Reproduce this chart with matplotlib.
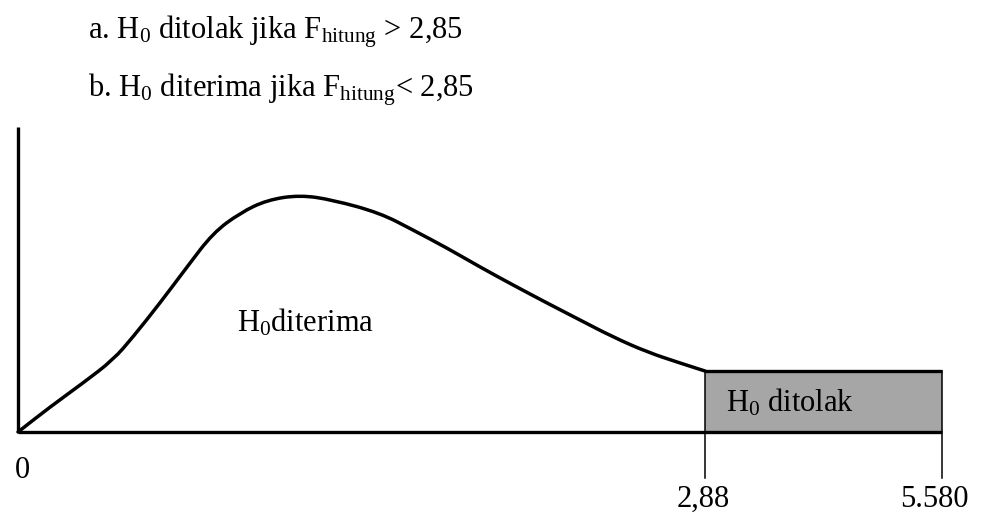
import matplotlib
matplotlib.use("Agg")
import matplotlib.pyplot as plt
from matplotlib.patches import Rectangle, PathPatch
from matplotlib.path import Path

plt.rcParams['font.family'] = ['Liberation Serif', 'DejaVu Serif']
plt.rcParams['mathtext.fontset'] = 'custom'
plt.rcParams['mathtext.rm'] = 'Liberation Serif'
plt.rcParams['mathtext.it'] = 'Liberation Serif:italic'

# kurva (satuan skematik: jarak mendatar, tinggi di atas sumbu)
curve_x = [0, 32, 65, 95, 115, 142, 169, 195, 222, 249, 282, 315,
           362, 395, 429, 462, 495, 529, 562, 595, 629, 662, 687]
curve_y = [0, 25, 49, 72, 95, 129, 165, 199, 219, 232, 237, 232,
           219, 202, 184, 165, 147, 129, 112, 95, 80, 69, 61]

# daerah penolakan
reject_start = 687
reject_end = 924
reject_height = 61
axis_height = 305

tick_pos = [0, reject_start, reject_end]
tick_labels = ['0', '2,88', '5.580']

rules = [r'a. $\mathrm{H_0}$ ditolak jika $\mathrm{F_{hitung}}$ > 2,85',
         r'b. $\mathrm{H_0}$ diterima jika $\mathrm{F_{hitung}}$< 2,85']

fig = plt.figure(figsize=(9.82, 5.23), dpi=100)
ax = fig.add_axes([0, 0, 1, 1])
ax.set_xlim(-18, 964)
ax.set_ylim(-91, 432)
ax.axis('off')

fs = 22

# kotak H0 ditolak
ax.add_patch(Rectangle((reject_start, 0), reject_end - reject_start, reject_height,
                       facecolor='#a6a6a6', edgecolor='none'))
ax.plot([reject_start, reject_end], [reject_height, reject_height], color='black', lw=2.4,
        solid_capstyle='butt')
for xp in tick_pos[1:]:
    ax.plot([xp, xp], [-46, reject_height], color='black', lw=1.1)

# sumbu
ax.plot([0, reject_end], [0, 0], color='black', lw=2.4, solid_capstyle='butt')
ax.plot([0, 0], [0, axis_height], color='black', lw=2.4, solid_capstyle='butt')

# kurva halus: titik bacaan sebagai titik kontrol kurva kuadrat
pts = list(zip(curve_x, curve_y))
verts = [pts[0]]
codes = [Path.MOVETO]
mid = ((pts[0][0] + pts[1][0]) / 2, (pts[0][1] + pts[1][1]) / 2)
verts.append(mid)
codes.append(Path.LINETO)
for i in range(1, len(pts) - 1):
    nxt = ((pts[i][0] + pts[i + 1][0]) / 2, (pts[i][1] + pts[i + 1][1]) / 2)
    verts += [pts[i], nxt]
    codes += [Path.CURVE3, Path.CURVE3]
verts.append(pts[-1])
codes.append(Path.LINETO)
ax.add_patch(PathPatch(Path(verts, codes), facecolor='none', edgecolor='black', lw=2.5,
                       joinstyle='round', capstyle='round'))

# teks
ax.text(70, 394, rules[0], fontsize=fs, va='baseline')
ax.text(70, 335, rules[1], fontsize=fs, va='baseline')
ax.text(219, 101, r'$\mathrm{H_0}$diterima', fontsize=fs, va='baseline')
ax.text(708, 20, r'$\mathrm{H_0}$ ditolak', fontsize=fs, va='baseline')

ax.text(4, -46, tick_labels[0], fontsize=fs, ha='center', va='baseline')
for xp, lab in zip(tick_pos[1:], tick_labels[1:]):
    ax.text(xp - 2 if lab == '2,88' else xp - 8, -75, lab, fontsize=fs, ha='center', va='baseline')

fig.savefig('out.png', dpi=100)
